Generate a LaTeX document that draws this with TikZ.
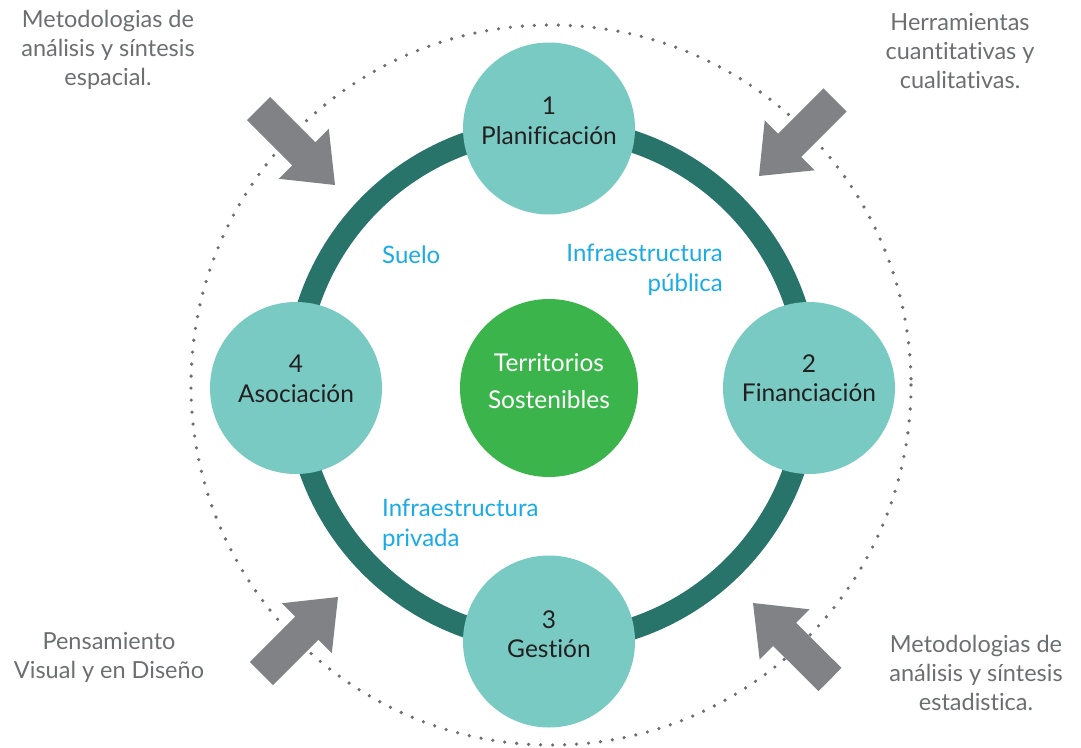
\documentclass[tikz,border=0pt]{standalone}
\usepackage{fontspec}
\setmainfont{Lato}[Ligatures=NoCommon]
\usetikzlibrary{calc}
\definecolor{ringteal}{HTML}{28736A}
\definecolor{satteal}{HTML}{78CAC3}
\definecolor{cgreen}{HTML}{3BB54B}
\definecolor{agray}{HTML}{808285}
\definecolor{dotgray}{HTML}{6D6E71}
\definecolor{tgray}{HTML}{6D6E71}
\definecolor{tdark}{HTML}{231F20}
\definecolor{tblue}{HTML}{1AABE6}
\tikzset{
  sidetext/.style={text=tgray, font=\fontsize{23.5}{29}\selectfont, align=center, inner sep=0pt},
  sattext/.style={text=tdark, font=\fontsize{24.5}{29.5}\selectfont, align=center, inner sep=0pt},
  bluetext/.style={text=tblue, font=\fontsize{24}{30}\selectfont, inner sep=0pt},
  satellite/.style={circle, fill=satteal, minimum size=172pt, inner sep=0pt},
  hub/.style={circle, fill=cgreen, minimum size=178pt, inner sep=0pt},
  ringline/.style={draw=ringteal, line width=22pt},
  dotring/.style={draw=dotgray, line width=3.6pt, line cap=round, dash pattern=on 0pt off 12pt},
  arrowfill/.style={fill=agray}
}
\newcommand\BlockArrow[2]{%
  \coordinate (#1-base) at ($(#1)!64pt!(#2)$);
  \fill[arrowfill] ($(#1)!16.3pt!90:(#2)$) -- ($(#1-base)!16.3pt!90:(#2)$) -- ($(#1-base)!35.4pt!90:(#2)$) -- (#2) -- ($(#1-base)!35.4pt!-90:(#2)$) -- ($(#1-base)!16.3pt!-90:(#2)$) -- ($(#1)!16.3pt!-90:(#2)$) -- cycle;}
\begin{document}
\begin{tikzpicture}[x=1pt,y=-1pt]
\useasboundingbox (0,0) rectangle (1081,747);
% outer dotted circle
\draw[dotring] (551,385) circle (360);
% main ring
\draw[ringline] (552,385) circle (256.5);
% hub
\node[hub] (hub) at (549,388) {};
\node[text=white, font=\fontsize{24.5}{37}\selectfont, align=center, inner sep=0pt] (hubtext) at (549,381) {Territorios\\Sostenibles};
% satellites
\node[satellite] (plan) at (549,128.5) {};
\node[satellite] (fin) at (809,388) {};
\node[satellite] (gest) at (549,641.5) {};
\node[satellite] (asoc) at (296,388) {};
\node[sattext] (plantext) at (549,121) {1\\Planificación};
\node[sattext] (fintext) at (809,378) {2\\Financiación};
\node[sattext] (gesttext) at (549,634) {3\\Gestión};
\node[sattext] (asoctext) at (296,379) {4\\Asociación};
% blue labels
\node[bluetext, anchor=west] (suelo) at (382,255) {Suelo};
\node[bluetext, align=right, anchor=east] (ipub) at (723,270) {Infraestructura\\pública};
\node[bluetext, align=left, anchor=west] (ipriv) at (382,525) {Infraestructura\\privada};
% block arrows
\coordinate (tlT) at (258.5,108.5); \coordinate (tlH) at (335,185);
\coordinate (trT) at (835,100);     \coordinate (trH) at (759,176);
\coordinate (blT) at (261.5,673.5); \coordinate (blH) at (338,597);
\coordinate (brT) at (830,679.5);   \coordinate (brH) at (753,603);
\BlockArrow{tlT}{tlH}
\BlockArrow{trT}{trH}
\BlockArrow{blT}{blH}
\BlockArrow{brT}{brH}
% side texts
\node[sidetext] (tltext) at (108,50) {Metodologias de\\análisis y síntesis\\espacial.};
\node[sidetext] (trtext) at (960,51) {Herramientas\\cuantitativas y\\cualitativas.};
\node[sidetext] (bltext) at (109,657) {Pensamiento\\Visual y en Diseño};
\node[sidetext] (brtext) at (976,673) {Metodologias de\\análisis y síntesis\\estadistica.};
\end{tikzpicture}
\end{document}
